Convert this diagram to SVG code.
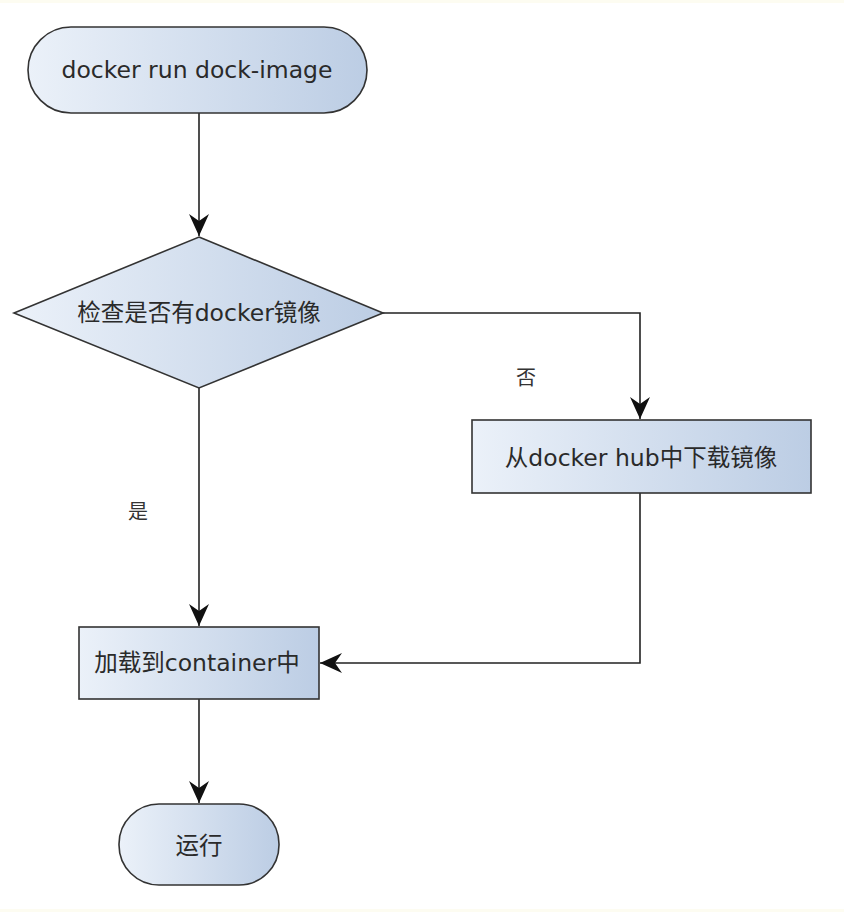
<svg xmlns="http://www.w3.org/2000/svg" width="844" height="912" viewBox="0 0 844 912">
  <defs>
    <linearGradient id="fill" x1="0" y1="0" x2="1" y2="0">
      <stop offset="0" stop-color="#ebf1f9"/>
      <stop offset="1" stop-color="#bccde4"/>
    </linearGradient>
    <marker id="arrow" viewBox="-24 -12 26 24" refX="0" refY="0" markerWidth="26" markerHeight="24" markerUnits="userSpaceOnUse" orient="auto">
      <path d="M0,0 L-22,-10 L-15,0 L-22,10 Z" fill="#111"/>
    </marker>
    <style>
      .shape { fill: url(#fill); stroke: #333; stroke-width: 1.6; }
      .label { font-family: "DejaVu Sans", "Noto Sans CJK SC", sans-serif; font-size: 23.5px; fill: #2a2a2a; text-anchor: middle; dominant-baseline: central; }
      .edge-label { font-family: "Noto Sans CJK SC", sans-serif; font-size: 20px; fill: #333; text-anchor: middle; dominant-baseline: central; }
      .edge { fill: none; stroke: #222; stroke-width: 1.6; marker-end: url(#arrow); }
    </style>
  </defs>
  <rect x="0" y="0" width="844" height="912" fill="#ffffff"/>
  <rect x="0" y="0" width="844" height="3" fill="#fdfcf1"/>
  <rect x="0" y="909" width="844" height="3" fill="#fdfcf1"/>

  <g id="connectors">
    <path class="edge" d="M199,113 L199,236"/>
    <path class="edge" d="M383,313 L640,313 L640,419"/>
    <path class="edge" d="M199,388 L199,626"/>
    <path class="edge" d="M640,493 L640,663 L320,663"/>
    <path class="edge" d="M199,699 L199,803"/>
    <text class="edge-label" x="526" y="376">否</text>
    <text class="edge-label" x="138" y="510">是</text>
  </g>

  <g id="start">
    <rect class="shape" x="28" y="27" width="339" height="86" rx="43" ry="43"/>
    <text class="label" x="197" y="70">docker run dock-image</text>
  </g>

  <g id="check">
    <polygon class="shape" points="199,237 383,313 199,388 14,313"/>
    <text class="label" x="199" y="313">检查是否有docker镜像</text>
  </g>

  <g id="download">
    <rect class="shape" x="472" y="420" width="339" height="73"/>
    <text class="label" x="641" y="458">从docker hub中下载镜像</text>
  </g>

  <g id="load">
    <rect class="shape" x="79" y="627" width="240" height="72"/>
    <text class="label" x="197" y="663">加载到container中</text>
  </g>

  <g id="run">
    <rect class="shape" x="119" y="804" width="160" height="81" rx="40" ry="40"/>
    <text class="label" x="199" y="846">运行</text>
  </g>
</svg>
